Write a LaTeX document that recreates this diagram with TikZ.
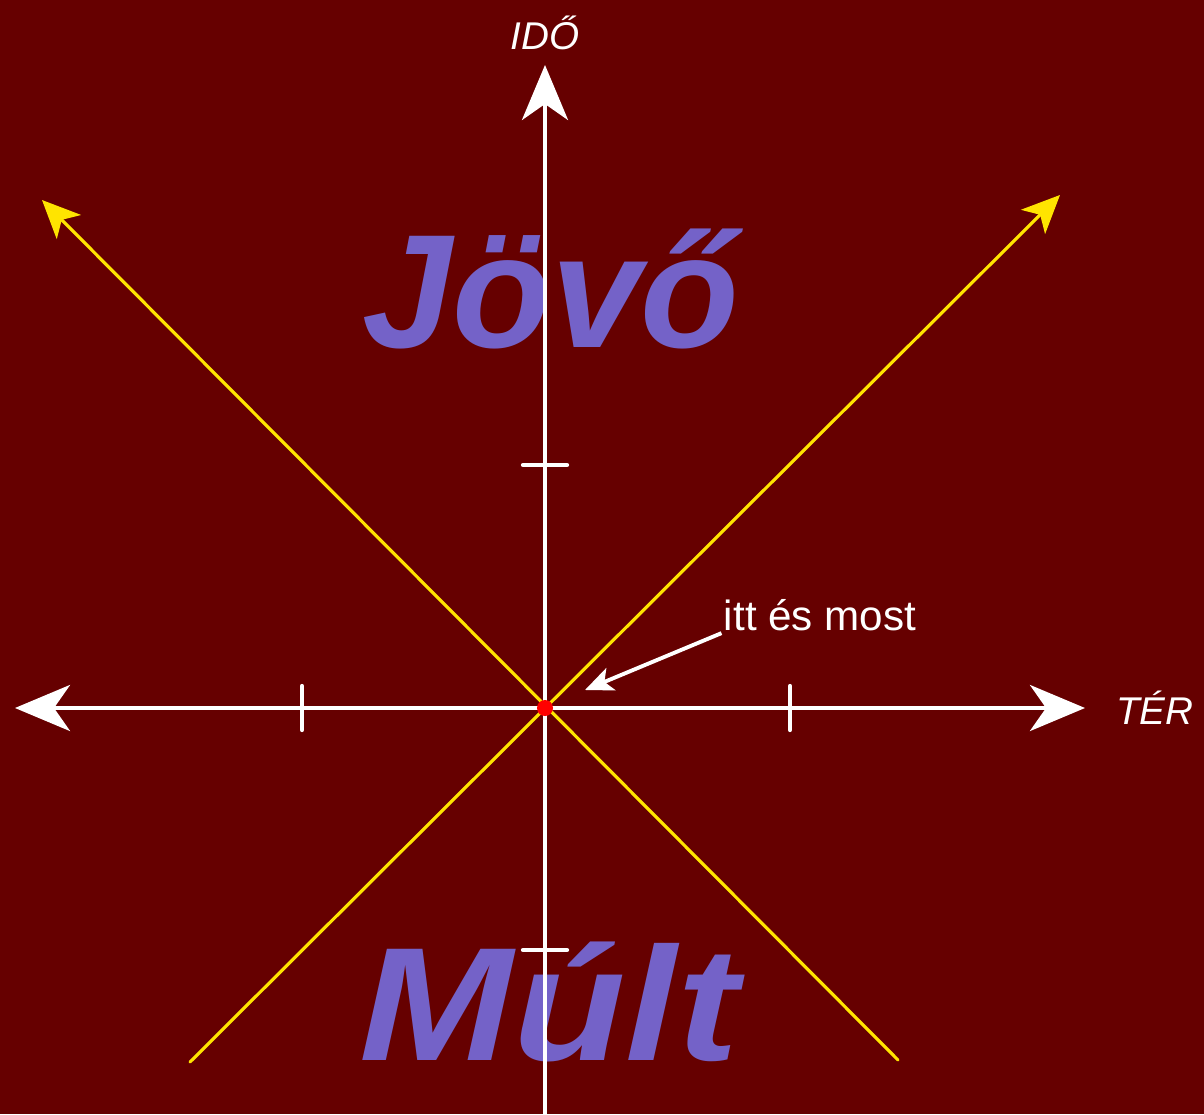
\documentclass[tikz,border=0pt]{standalone}
\usepackage{fontspec}
\setmainfont{Liberation Sans}
\usepackage{tikz}
\usetikzlibrary{arrows.meta}
\usepackage{tkz-euclide}
\definecolor{bgred}{RGB}{102,0,0}
\definecolor{conelight}{RGB}{255,228,0}
\definecolor{eralabel}{RGB}{116,98,200}

\begin{document}
\begin{tikzpicture}[
    axisline/.style={white, line width=1.2pt},
    axisarrow/.tip={Stealth[length=5.5mm, width=4.6mm, inset=1.6mm]},
    lightline/.style={conelight, line width=0.9pt},
    lightarrow/.tip={Stealth[length=3.8mm, width=3.4mm, inset=1mm]},
    eratext/.style={eralabel, font=\fontsize{46}{56}\selectfont\bfseries\itshape, anchor=base},
    axislabel/.style={white, font=\fontsize{11}{13}\selectfont\itshape}]
                \tkzDefPoint(-5.45,-4.06){SW}
                \tkzDefPoint(6.59,7.08){NE}
                \fill[bgred] (SW) rectangle (NE);
                \useasboundingbox (SW) rectangle (NE);
                % eras
                \node[eratext] (future) at (0.06,3.61) {Jövő};
                \node[eratext, transform shape, xscale=1.14] (past) at (0.04,-3.52) {Múlt};
                % light cone
                \tkzDefPoint(0,0){O}
                \tkzDefPoint(5.15,5.13){UR}
                \tkzDefPoint(-5.03,5.08){UL}
                \tkzDefPoint(-3.55,-3.54){LL}
                \tkzDefPoint(3.53,-3.52){LR}
                \tkzDrawSegments[lightline, -lightarrow](LL,UR LR,UL)
                % axes
                \tkzDefPoint(-5.30,0){XL}
                \tkzDefPoint(5.40,0){XR}
                \tkzDefPoint(0,-4.06){YB}
                \tkzDefPoint(0,6.43){YT}
                \tkzDrawSegments[axisline, axisarrow-axisarrow](XL,XR)
                \tkzDrawSegments[axisline, -axisarrow](YB,YT)
                \tkzDefPoint(-2.43,-0.22){Ta} \tkzDefPoint(-2.43,0.22){Tb}
                \tkzDefPoint(2.45,-0.22){Tc} \tkzDefPoint(2.45,0.22){Td}
                \tkzDefPoint(-0.22,2.43){Te} \tkzDefPoint(0.22,2.43){Tf}
                \tkzDefPoint(-0.22,-2.42){Tg} \tkzDefPoint(0.22,-2.42){Th}
                \tkzDrawSegments[axisline](Ta,Tb Tc,Td Te,Tf Tg,Th)
                \node[axislabel] (space) at (6.10,0) {TÉR};
                \node[axislabel] (time) at (0,6.75) {IDŐ};
                % here and now
                \node[white, font=\fontsize{12}{14}\selectfont] (now) at (2.75,0.93) {itt és most};
                \tkzDefPoint(0.40,0.18){P}
                \draw[white, line width=1.1pt, -{Stealth[length=2.8mm, width=2.4mm, inset=0.7mm]}] (now.south west) ++(0.1,0.1) -- (P);
                \fill[red] (O) circle (0.08);
            \end{tikzpicture}
\end{document}
